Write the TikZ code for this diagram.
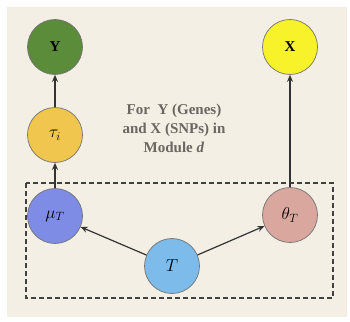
\documentclass[tikz,border=0pt]{standalone}
\usepackage{fontspec}
\setmainfont{Liberation Serif}
\usetikzlibrary{arrows.meta}
\definecolor{bgc}{HTML}{F4EFE4}
\definecolor{cY}{HTML}{5B8C3A}
\definecolor{cX}{HTML}{F8F22A}
\definecolor{ctau}{HTML}{F0C64E}
\definecolor{cmu}{HTML}{7F8CE6}
\definecolor{ctheta}{HTML}{D9A79E}
\definecolor{cT}{HTML}{7DBBEA}
\definecolor{txt}{HTML}{6A6762}
\tikzset{
  var/.style={circle, draw=black!55, line width=0.7pt, minimum size=55pt, inner sep=0pt, font=\fontsize{17}{19}\selectfont},
  edge/.style={-{Stealth[length=7pt,width=6pt]}, line width=1.2pt, draw=black!80},
}
\begin{document}
\begin{tikzpicture}[x=1pt,y=-1pt]
\useasboundingbox (0,0) rectangle (350,321);
\fill[white] (0,0) rectangle (350,321);
\fill[bgc] (7,7) rectangle (347,317);
\draw[line width=1.2pt, draw=black!75, dash pattern=on 5pt off 3pt] (26,183) rectangle (333,298);
\node[var, fill=cY] (Y) at (55,47) {\fontsize{15}{17}\selectfont\textbf{Y}};
\node[var, fill=cX] (X) at (290,47) {\fontsize{15}{17}\selectfont\textbf{X}};
\node[var, fill=ctau] (tau) at (55,135) {$\tau_i$};
\node[var, fill=cmu] (mu) at (55,216) {$\mu_T$};
\node[var, fill=ctheta] (theta) at (290,215) {$\theta_T$};
\node[var, fill=cT] (T) at (172,266) {$T$};
\node[align=center, text=txt, font=\bfseries\fontsize{15}{19}\selectfont] (lbl) at (174,128) {For\ \ Y (Genes)\\and X (SNPs) in\\Module \textit{d}};
\draw[edge] (tau) -- (Y);
\draw[edge] (mu) -- (tau);
\draw[edge] (theta) -- (X);
\draw[edge] (T) -- (mu);
\draw[edge] (T) -- (theta);
\end{tikzpicture}
\end{document}
